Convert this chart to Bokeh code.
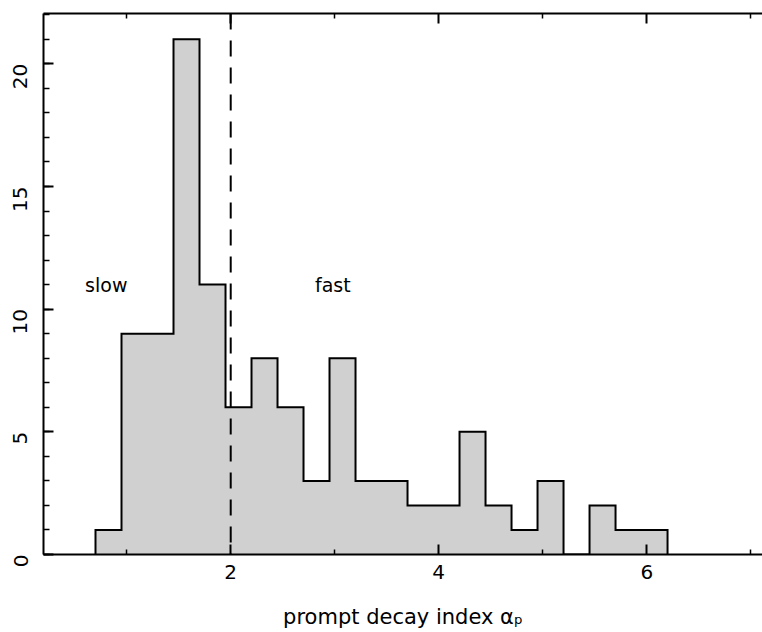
import math
from bokeh.plotting import figure
from bokeh.models import Range1d, FixedTicker, LinearAxis, Span, ColumnDataSource
from bokeh.core.properties import value
from bokeh.embed import file_html
from bokeh.resources import INLINE

# ---- data ----
bin_edges = [0.70, 0.95, 1.20, 1.45, 1.70, 1.95, 2.20, 2.45, 2.70, 2.95, 3.20, 3.45,
             3.70, 3.95, 4.20, 4.45, 4.70, 4.95, 5.20, 5.45, 5.70, 5.95, 6.20]
counts = [1, 9, 9, 21, 11, 6, 8, 6, 3, 8, 3, 3, 2, 2, 5, 2, 1, 3, 0, 2, 1, 1]
threshold = 2.0
x_major = [2, 4, 6]
x_minor = [1, 3, 5, 7]
y_major = [0, 5, 10, 15, 20]
y_minor = list(range(0, 23))
region_labels = ["slow", "fast"]
region_x = [0.6, 2.81]
region_y = [11, 11]
x_title = "prompt decay index \u03b1\u209a"

FONT = "DejaVu Sans"

p = figure(width=762, height=632, output_backend="svg", toolbar_location=None,
           x_range=Range1d(0.2, 7.113), y_range=Range1d(0, 22.05),
           min_border_left=43, min_border_right=0, min_border_top=13,
           min_border_bottom=78, x_axis_location=None, y_axis_location=None)
p.outline_line_color = None
p.xgrid.visible = False
p.ygrid.visible = False
p.background_fill_color = "white"
p.border_fill_color = "white"

def style_axis(ax, major_len, minor_len):
    ax.axis_line_width = 2
    ax.axis_line_color = "black"
    ax.major_tick_in = major_len
    ax.major_tick_out = 0
    ax.minor_tick_in = minor_len
    ax.minor_tick_out = 0
    ax.major_tick_line_width = 2
    ax.minor_tick_line_width = 1.5
    ax.major_tick_line_color = "black"
    ax.minor_tick_line_color = "black"
    ax.major_label_text_font = FONT
    ax.major_label_text_font_size = "20px"
    ax.major_label_text_color = "black"

xt = FixedTicker(ticks=x_major, minor_ticks=x_minor)
yt = FixedTicker(ticks=y_major, minor_ticks=y_minor)

xb = LinearAxis(ticker=xt)
style_axis(xb, 10, 5)
xb.major_label_standoff = 10
xb.axis_label = x_title
xb.axis_label_text_font = FONT
xb.axis_label_text_font_size = "21px"
xb.axis_label_text_font_style = "normal"
xb.axis_label_text_color = "black"
xb.axis_label_standoff = 23
p.add_layout(xb, "below")

xtop = LinearAxis(ticker=xt)
style_axis(xtop, 10, 5)
xtop.major_label_overrides = {t: "" for t in x_major}
xtop.major_label_standoff = 0
p.add_layout(xtop, "above")

yl = LinearAxis(ticker=yt)
style_axis(yl, 10, 6)
yl.major_label_orientation = math.pi / 2
yl.major_label_standoff = 23
p.add_layout(yl, "left")

# histogram outline (step) and fill as a single polygon
sx = [bin_edges[0]]
sy = [0]
for i, c in enumerate(counts):
    sx += [bin_edges[i], bin_edges[i + 1]]
    sy += [c, c]
sx.append(bin_edges[-1])
sy.append(0)
p.patch(sx, sy, fill_color="#d0d0d0", line_color=None)
p.line(sx, sy, line_color="black", line_width=2, line_join="miter")

# threshold line
p.add_layout(Span(location=threshold, dimension="height", line_color="black",
                  line_width=2, line_dash="16 11"))

src = ColumnDataSource(dict(x=region_x, y=region_y, t=region_labels))
p.text(x="x", y="y", text="t", source=src, text_font=value(FONT),
       text_font_size="19px", text_color="black", text_baseline="alphabetic",
       text_align="left")

open("out.html", "w").write(file_html(p, INLINE))
